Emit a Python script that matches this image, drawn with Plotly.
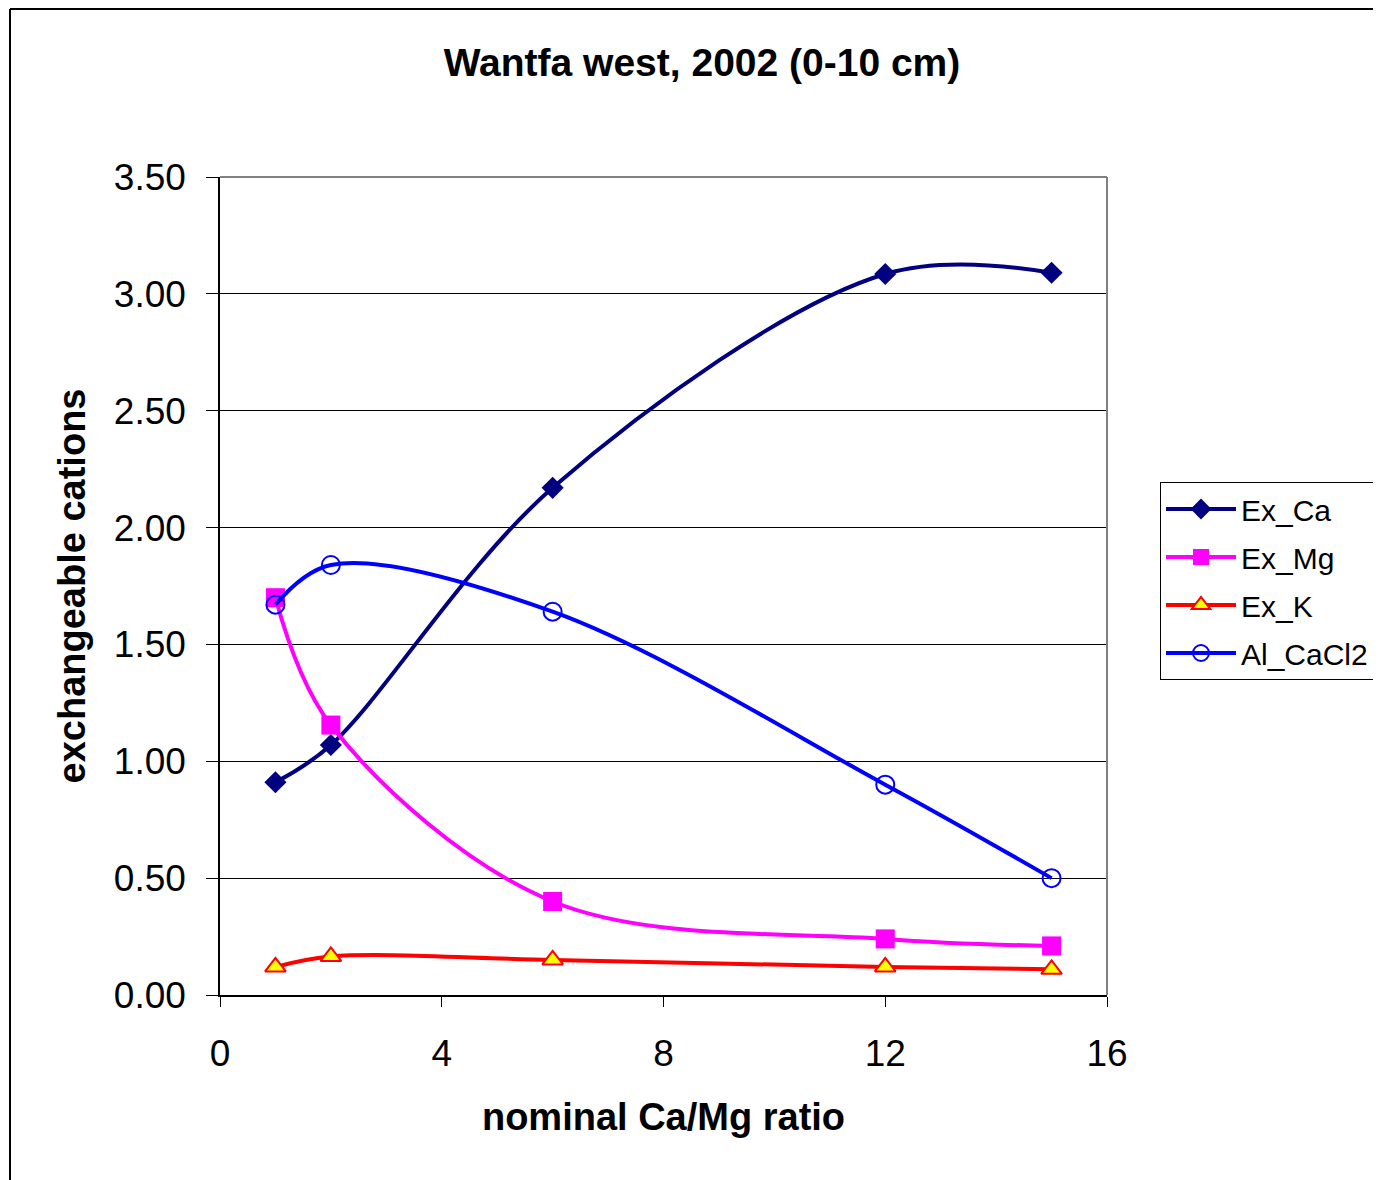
import plotly.graph_objects as go

x_vals = [1, 2, 6, 12, 15]
ex_ca = [0.91, 1.07, 2.17, 3.085, 3.09]
ex_mg = [1.70, 1.155, 0.40, 0.24, 0.21]
ex_k = [0.12, 0.165, 0.15, 0.12, 0.11]
al_cacl2 = [1.67, 1.84, 1.64, 0.90, 0.50]

y_ticks = [0, 0.5, 1.0, 1.5, 2.0, 2.5, 3.0, 3.5]
y_tick_text = ["0.00", "0.50", "1.00", "1.50", "2.00", "2.50", "3.00", "3.50"]
x_ticks = [0, 4, 8, 12, 16]

FONT = "Liberation Sans, Arial, sans-serif"

fig = go.Figure()
fig.add_trace(go.Scatter(x=x_vals, y=ex_ca, name="Ex_Ca", mode="lines+markers", legendgroup="a",
                         line=dict(color="#000080", width=4, shape="spline", smoothing=1),
                         marker=dict(symbol="diamond", size=17, color="#000080")))
fig.add_trace(go.Scatter(x=x_vals, y=ex_mg, name="Ex_Mg", mode="lines+markers", legendgroup="b",
                         line=dict(color="#FF00FF", width=4, shape="spline", smoothing=1),
                         marker=dict(symbol="square", size=19, color="#FF00FF")))
fig.add_trace(go.Scatter(x=x_vals, y=ex_k, name="Ex_K", mode="lines+markers", legendgroup="c",
                         line=dict(color="#FF0000", width=4, shape="spline", smoothing=1),
                         marker=dict(symbol="triangle-up", size=18, color="#FFFF00",
                                     line=dict(color="#FF0000", width=2))))
fig.add_trace(go.Scatter(x=x_vals, y=al_cacl2, name="Al_CaCl2", mode="lines+markers", legendgroup="d",
                         line=dict(color="#0000FF", width=4, shape="spline", smoothing=1),
                         marker=dict(symbol="circle-open", size=18, color="#0000FF",
                                     line=dict(color="#0000FF", width=2))))

PLOT_L, PLOT_T, PLOT_W, PLOT_H = 212, 169, 887, 818


def px_x(fx):
    return (fx - PLOT_L) / PLOT_W


def px_y(fy):
    return (PLOT_T + PLOT_H - fy) / PLOT_H


fig.update_layout(
    width=1381, height=1180,
    margin=dict(l=212, r=282, t=169, b=193),
    paper_bgcolor="white", plot_bgcolor="white",
    font=dict(family=FONT, color="black", size=24),
    title=dict(text="<b>Wantfa west, 2002 (0-10 cm)</b>", x=694 / 1381,
               xanchor="center", y=1 - 54 / 1180, yanchor="middle",
               font=dict(size=39, family=FONT)),
    showlegend=True,
    legend=dict(x=(1160 - 220) / 887, y=(995 - 482) / 818, xanchor="left", yanchor="top",
                bordercolor="black", borderwidth=1, bgcolor="white",
                font=dict(size=30, family=FONT), itemwidth=70,
                traceorder="grouped", tracegroupgap=6),
    xaxis=dict(range=[0, 16], tickvals=x_ticks, showgrid=False, zeroline=False,
               showline=True, linecolor="black", linewidth=1.5,
               ticks="outside", ticklen=10, tickcolor="black", ticklabelstandoff=15,
               tickfont=dict(size=37, family=FONT),
               title=dict(text="<b>nominal Ca/Mg ratio</b>", standoff=30,
                          font=dict(size=38, family=FONT))),
    yaxis=dict(range=[0, 3.5], tickvals=y_ticks, ticktext=y_tick_text,
               showgrid=True, gridcolor="black", gridwidth=1, zeroline=False,
               showline=True, linecolor="black", linewidth=1.5,
               ticks="outside", ticklen=12, tickcolor="black", ticklabelstandoff=13,
               tickfont=dict(size=37, family=FONT),
               title=dict(text="<b>exchangeable cations</b>", standoff=17,
                          font=dict(size=38, family=FONT))),
    shapes=[
        dict(type="line", xref="paper", yref="paper", x0=0, x1=1, y0=1, y1=1,
             line=dict(color="#808080", width=2)),
        dict(type="line", xref="paper", yref="paper", x0=1, x1=1, y0=0, y1=1,
             line=dict(color="#808080", width=2)),
        dict(type="line", xref="paper", yref="paper",
             x0=px_x(2), x1=px_x(2), y0=px_y(1185), y1=px_y(1),
             line=dict(color="black", width=2)),
        dict(type="line", xref="paper", yref="paper",
             x0=px_x(2), x1=px_x(1390), y0=px_y(1), y1=px_y(1),
             line=dict(color="black", width=2)),
    ],
)

fig.write_html("out.html")
